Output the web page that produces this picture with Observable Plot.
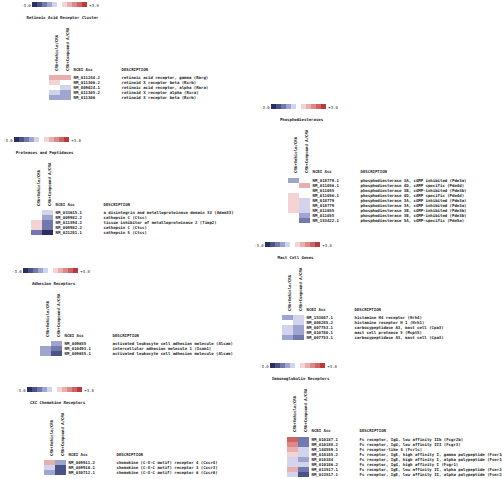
<!DOCTYPE html>
<html><head><meta charset="utf-8">
<script src="https://cdn.jsdelivr.net/npm/d3@7"></script>
<script src="https://cdn.jsdelivr.net/npm/@observablehq/plot@0.6"></script>
<style>
body{margin:0;background:#fff;}
#chart{position:relative;width:502px;height:479px;overflow:hidden;background:#fff;}
</style></head>
<body><div id="chart"></div>
<script>
// ---------- data ----------
const columns = ["CRA+Vehicle/CRA", "CRA+Compound A/CRA"];
const legendLow = "-3.0", legendHigh = "+3.0";

const retinoicTitle = "Retinoic Acid Receptor Cluster";
const retinoicAcc = ["NM_011244.2","NM_011306.2","NM_009024.1","NM_011305.2","NM_011306"];
const retinoicDesc = ["retinoic acid receptor, gamma (Rarg)","retinoid X receptor beta (Rxrb)","retinoic acid receptor, alpha (Rara)","retinoid X receptor alpha (Rxra)","retinoid X receptor beta (Rxrb)"];
const retinoicVeh = [1.1, 0.5, 0, -0.5, -1.1];
const retinoicCmp = [1.1, 0, -0.5, -1.1, -1.1];

const proteaseTitle = "Proteases and Peptidases";
const proteaseAcc = ["NM_033615.1","NM_009982.2","NM_011594.2","NM_009982.2","NM_021281.1"];
const proteaseDesc = ["a disintegrin and metalloproteinase domain 33 (Adam33)","cathepsin C (Ctsc)","tissue inhibitor of metalloproteinase 2 (Timp2)","cathepsin C (Ctsc)","cathepsin S (Ctss)"];
const proteaseVeh = [0, 0, 0.5, 0.5, -1.6];
const proteaseCmp = [-0.5, -1.1, -1.6, -1.6, -2.7];

const pdeTitle = "Phosphodiesterases";
const pdeAcc = ["NM_018779.1","NM_011056.1","NM_011055","NM_011056.1","NM_018779","NM_018779","NM_011055","NM_011055","NM_153422.1"];
const pdeDesc = ["phosphodiesterase 3A, cGMP inhibited (Pde3a)","phosphodiesterase 4D, cAMP specific (Pde4d)","phosphodiesterase 3B, cGMP-inhibited (Pde3b)","phosphodiesterase 4D, cAMP specific (Pde4d)","phosphodiesterase 3A, cGMP inhibited (Pde3a)","phosphodiesterase 3A, cGMP inhibited (Pde3a)","phosphodiesterase 3B, cGMP-inhibited (Pde3b)","phosphodiesterase 3B, cGMP-inhibited (Pde3b)","phosphodiesterase 5A, cGMP-specific (Pde5a)"];
const pdeVeh = [-1.1, 0, 0, 0.5, 0.5, 0.5, 0.5, 0, 0];
const pdeCmp = [0, 1.1, 0, 0, -0.5, -0.5, -0.5, -1.1, -1.6];

const adhesionTitle = "Adhesion Receptors";
const adhesionAcc = ["NM_009655","NM_010493.1","NM_009655.1"];
const adhesionDesc = ["activated leukocyte cell adhesion molecule (Alcam)","intercellular adhesion molecule 1 (Icam1)","activated leukocyte cell adhesion molecule (Alcam)"];
const adhesionVeh = [0, -1.1, -1.1];
const adhesionCmp = [-1.1, -1.6, -2.2];

const cxcTitle = "CXC Chemokine Receptors";
const cxcAcc = ["NM_009911.2","NM_009910.1","NM_030712.1"];
const cxcDesc = ["chemokine (C-X-C motif) receptor 4 (Cxcr4)","chemokine (C-X-C motif) receptor 3 (Cxcr3)","chemokine (C-X-C motif) receptor 6 (Cxcr6)"];
const cxcVeh = [1.1, -0.5, -1.1];
const cxcCmp = [-1.1, -2.2, -2.2];

const mastTitle = "Mast Cell Genes";
const mastAcc = ["NM_153087.1","NM_008285.2","NM_007753.1","NM_010780.1","NM_007753.1"];
const mastDesc = ["histamine H4 receptor (Hrh4)","histamine receptor H 1 (Hrh1)","carboxypeptidase A3, mast cell (Cpa3)","mast cell protease 5 (Mcpt5)","carboxypeptidase A3, mast cell (Cpa3)"];
const mastVeh = [-1.1, 0, -0.5, -0.5, -1.1];
const mastCmp = [-0.5, -0.5, -1.1, -1.1, -1.6];

const immunoTitle = "Immunoglobulin Receptors";
const immunoAcc = ["NM_010187.1","NM_010188.2","NM_144559.1","NM_010185.2","NM_010184","NM_010186.2","NM_013517.1","NM_013517.1"];
const immunoDesc = ["Fc receptor, IgG, low affinity IIb (Fcgr2b)","Fc receptor, IgG, low affinity III (Fcgr3)","Fc receptor-like S (Fcrls)","Fc receptor, IgE, high affinity I, gamma polypeptide (Fcer1g)","Fc receptor, IgE, high affinity I, alpha polypeptide (Fcer1a)","Fc receptor, IgG, high affinity I (Fcgr1)","Fc receptor, IgE, low affinity II, alpha polypeptide (Fcer2a)","Fc receptor, IgE, low affinity II, alpha polypeptide (Fcer2a)"];
const immunoVeh = [2.2, 1.6, 1.1, 0.5, -0.5, -0.5, 1.1, -0.5];
const immunoCmp = [-1.6, -1.6, -0.5, -0.5, -1.1, -0.5, -1.6, -2.2];

// ---------- styling / layout ----------
const palette = ["#2b2f60","#4b5288","#7279ae","#9fa5cf","#d1d4ec","#ffffff","#f3d3d3","#e9afaf","#dd8989","#cf6262","#b73b3d"];
const thresholds = d3.range(1, 11).map(i => -3 + 6 * i / 11);
const legendSlots = d3.range(11).map(i => -3 + 6 * (i + 0.5) / 11);
const colorOpts = {type: "threshold", domain: thresholds, range: palette};
const FONT = "'DejaVu Sans Mono', monospace";
const FS = 4;
const TXT = "#222";

const panels = [
  {title: retinoicTitle, acc: retinoicAcc, desc: retinoicDesc, veh: retinoicVeh, cmp: retinoicCmp, at: [29, 2]},
  {title: proteaseTitle, acc: proteaseAcc, desc: proteaseDesc, veh: proteaseVeh, cmp: proteaseCmp, at: [11, 137]},
  {title: pdeTitle, acc: pdeAcc, desc: pdeDesc, veh: pdeVeh, cmp: pdeCmp, at: [268, 104]},
  {title: adhesionTitle, acc: adhesionAcc, desc: adhesionDesc, veh: adhesionVeh, cmp: adhesionCmp, at: [20, 268]},
  {title: cxcTitle, acc: cxcAcc, desc: cxcDesc, veh: cxcVeh, cmp: cxcCmp, at: [24, 387]},
  {title: mastTitle, acc: mastAcc, desc: mastDesc, veh: mastVeh, cmp: mastCmp, at: [262, 242]},
  {title: immunoTitle, acc: immunoAcc, desc: immunoDesc, veh: immunoVeh, cmp: immunoCmp, at: [267, 363]}
];

const chart = document.getElementById("chart");
function place(svg, left, top) {
  svg.style.position = "absolute";
  svg.style.left = left + "px";
  svg.style.top = top + "px";
  chart.appendChild(svg);
}

const slotW = 5.6, colW = 11.5, rowH = 5.5, cellX = 19, cellY = 72;

for (const p of panels) {
  const [lx, ly] = p.at;
  // legend + title
  const lgW = 15 + 11 * slotW + 20;
  const legend = Plot.plot({
    width: lgW, height: 20,
    marginLeft: 15, marginRight: 20, marginTop: 2, marginBottom: 12.5,
    x: {type: "band", domain: legendSlots, padding: 0, axis: null},
    color: colorOpts,
    style: {maxWidth: "none", background: "transparent", overflow: "visible", fontFamily: FONT},
    marks: [
      Plot.cell(legendSlots, {x: d => d, fill: d => d, inset: 0, shapeRendering: "crispEdges"}),
      Plot.text([legendLow], {x: () => legendSlots[0], dx: -slotW / 2 - 1.5, textAnchor: "end", lineAnchor: "middle", fontSize: FS, fill: TXT}),
      Plot.text([legendHigh], {x: () => legendSlots[10], dx: slotW / 2 + 1.5, textAnchor: "start", lineAnchor: "middle", fontSize: FS, fill: TXT}),
      Plot.text([p.title], {frameAnchor: "bottom", dx: 2.2, dy: 9.5, textAnchor: "middle", lineAnchor: "middle", fontSize: FS, fill: TXT, fontWeight: "bold"})
    ]
  });
  place(legend, lx - 15, ly - 2);

  // heatmap
  const n = p.acc.length;
  const cells = d3.range(n).flatMap(i => [
    {i, col: columns[0], v: p.veh[i]},
    {i, col: columns[1], v: p.cmp[i]}
  ]);
  const W = 270;
  const heat = Plot.plot({
    width: W, height: cellY + n * rowH + 4,
    marginLeft: cellX, marginRight: W - cellX - 2 * colW, marginTop: cellY, marginBottom: 4,
    x: {type: "band", domain: columns, padding: 0, axis: null},
    y: {type: "band", domain: d3.range(n), padding: 0, axis: null},
    color: colorOpts,
    style: {maxWidth: "none", background: "transparent", overflow: "visible", fontFamily: FONT},
    marks: [
      Plot.cell(cells, {x: "col", y: "i", fill: "v", inset: 0, shapeRendering: "crispEdges"}),
      Plot.text(columns, {x: d => d, frameAnchor: "top", rotate: -90, textAnchor: "start", lineAnchor: "middle", dx: 2, dy: -3.5, fontSize: FS, fill: TXT, fontWeight: "bold"}),
      Plot.text(["NCBI Acc"], {frameAnchor: "top-left", dx: 2 * colW + 2, dy: -4.3, textAnchor: "start", lineAnchor: "middle", fontSize: FS, fill: TXT, fontWeight: "bold"}),
      Plot.text(["DESCRIPTION"], {frameAnchor: "top-left", dx: 2 * colW + 50, dy: -4.3, textAnchor: "start", lineAnchor: "middle", fontSize: FS, fill: TXT, fontWeight: "bold"}),
      Plot.text(d3.range(n), {y: i => i, text: i => p.acc[i], frameAnchor: "left", dx: 2 * colW + 2, textAnchor: "start", lineAnchor: "middle", fontSize: FS, fill: TXT, fontWeight: "bold"}),
      Plot.text(d3.range(n), {y: i => i, text: i => p.desc[i], frameAnchor: "left", dx: 2 * colW + 50, textAnchor: "start", lineAnchor: "middle", fontSize: FS, fill: TXT, fontWeight: "bold"})
    ]
  });
  place(heat, lx, ly);
}
</script></body></html>
